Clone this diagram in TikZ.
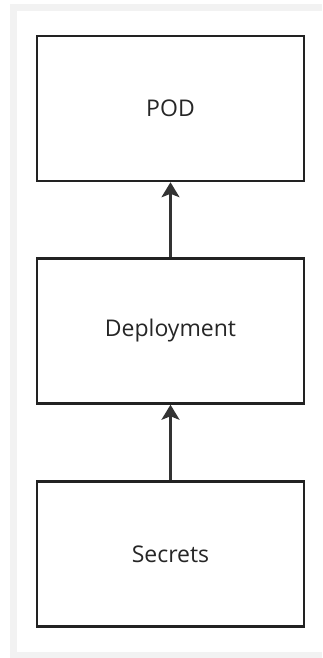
\documentclass[tikz,border=0pt]{standalone}
\usepackage{fontspec}
\setmainfont{Open Sans}
\usetikzlibrary{arrows.meta}
\definecolor{framegray}{HTML}{F2F2F2}
\definecolor{boxline}{HTML}{222222}
\definecolor{arrowline}{HTML}{333333}
\begin{document}
\begin{tikzpicture}[x=1pt,y=-1pt,
  stagebox/.style={draw=boxline, line width=2.5pt, fill=white,
    minimum width=267pt, minimum height=145pt, inner sep=0pt,
    font=\fontsize{23}{27}\selectfont, text=black!85},
  link/.style={draw=arrowline, line width=2.3pt,
    -{Stealth[length=15pt,width=18pt,inset=3.5pt]}}]
  \useasboundingbox (0,0) rectangle (322,658);
  % canvas frame
  \fill[framegray] (10,4) rectangle (322,658);
  \fill[white] (17,11) rectangle (322,652);
  % stages
  \node[stagebox] (pod) at (170.5,108.5) {POD};
  \node[stagebox] (deploy) at (170.5,331) {Deployment};
  \node[stagebox] (secrets) at (170.5,554) {Secrets};
  % dependencies
  \draw[link] (deploy.north) -- (pod.south);
  \draw[link] (secrets.north) -- (deploy.south);
\end{tikzpicture}
\end{document}
